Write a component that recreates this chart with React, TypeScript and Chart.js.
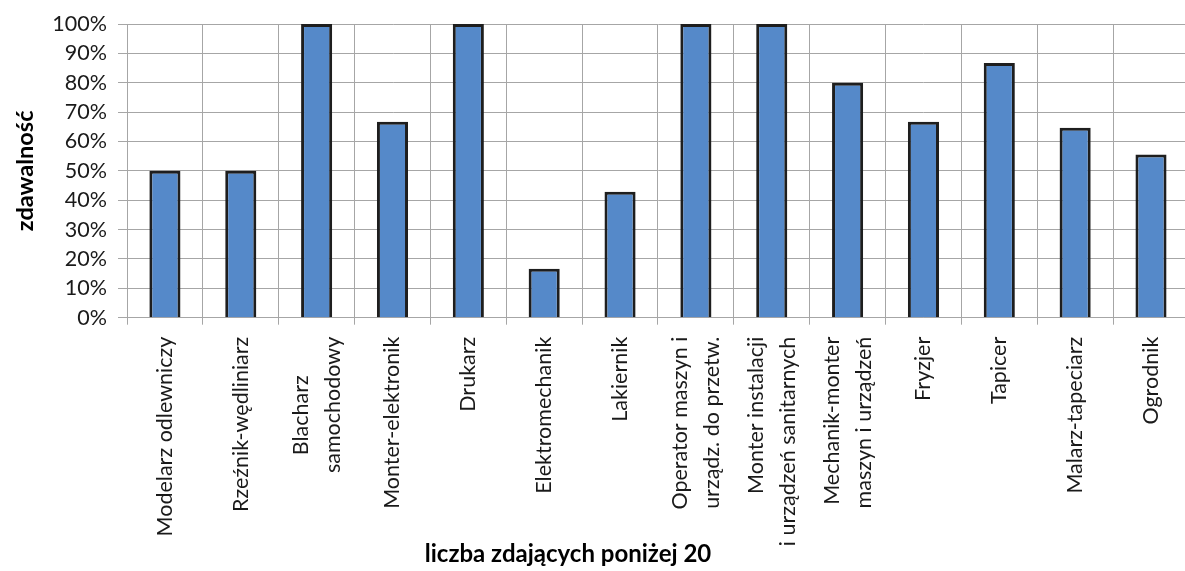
import React, { useEffect, useRef } from "react";
import { Chart, registerables, CategoryScale } from "chart.js";

const categories: (string | string[])[] = [
  "Modelarz odlewniczy",
  "Rzeźnik-wędliniarz",
  ["Blacharz       ", "samochodowy"],
  "Monter-elektronik",
  "Drukarz",
  "Elektromechanik",
  "Lakiernik",
  ["Operator maszyn i", "urządz. do przetw."],
  ["Monter instalacji", "i urządzeń sanitarnych"],
  ["Mechanik-monter", "maszyn i urządzeń"],
  "Fryzjer",
  "Tapicer",
  "Malarz-tapeciarz",
  "Ogrodnik",
];

const passRates: number[] = [50, 50, 100, 66.7, 100, 16.7, 42.9, 100, 100, 80, 66.7, 86.7, 64.7, 55.6];

const yTickValues: number[] = [0, 10, 20, 30, 40, 50, 60, 70, 80, 90, 100];

const yTitle = "zdawalność";
const xTitle = "liczba zdających poniżej 20";

class CenteredCategoryScale extends CategoryScale {
  static id = "centeredCategory";
  static defaults = CategoryScale.defaults;
  _computeLabelItems(chartArea: any) {
    const items = (super._computeLabelItems as any)(chartArea);
    items.forEach((item: any) => {
      const n = Array.isArray(item.label) ? item.label.length : 1;
      if (n > 1) {
        item.options.translation[0] -= ((n - 1) * item.font.lineHeight) / 2;
      }
    });
    return items;
  }
  _computeLabelArea() {
    return undefined;
  }
}

Chart.register(...registerables, CenteredCategoryScale as any);

const FONT = "Lato";
const GRID = "#a6a6a6";
const TEXT = "#1a1a1a";

export default function App() {
  const ref = useRef<HTMLCanvasElement>(null);
  useEffect(() => {
    const chart = new Chart(ref.current!, {
      type: "bar",
      data: {
        labels: categories,
        datasets: [
          {
            data: passRates,
            backgroundColor: "#5589c9",
            borderColor: "#1e1e1e",
            borderWidth: 3,
            barPercentage: 0.41,
            categoryPercentage: 1,
          },
        ],
      },
      options: {
        responsive: false,
        animation: false,
        layout: { padding: { top: 24, left: 0, right: 0, bottom: 0 } },
        plugins: {
          legend: { display: false },
          tooltip: { enabled: false },
          title: {
            display: true,
            position: "bottom",
            text: xTitle,
            color: "#000",
            font: { family: FONT, weight: "bold", size: 24, lineHeight: 1.2 },
            padding: { top: 0, bottom: 2 },
          },
        },
        scales: {
          x: {
            type: "centeredCategory" as any,
            grid: { offset: true, color: GRID, tickLength: 7, lineWidth: 1 },
            border: { color: GRID },
            ticks: {
              minRotation: 90,
              maxRotation: 90,
              autoSkip: false,
              padding: 12,
              color: TEXT,
              font: { family: FONT, size: 21.5, lineHeight: 32 / 21.5 },
            },
            afterFit: (s: any) => {
              s.height = 222.5;
            },
          },
          y: {
            min: 0,
            max: 100,
            grid: { color: GRID, tickLength: 9, lineWidth: 1 },
            border: { color: GRID },
            afterBuildTicks: (s: any) => {
              s.ticks = yTickValues.map((v) => ({ value: v }));
            },
            ticks: {
              padding: 11,
              color: TEXT,
              font: { family: FONT, size: 21.5 },
              callback: (v: any) => `${v}%`,
            },
            title: {
              display: true,
              text: yTitle,
              color: "#000",
              font: { family: FONT, weight: "bold", size: 23.5, lineHeight: 1.2 },
              padding: { top: 70, bottom: 0 },
            },
            afterFit: (s: any) => {
              s.width = 186;
            },
          },
        },
      },
    } as any);
    return () => chart.destroy();
  }, []);
  return (
    <div
      style={{
        position: "fixed",
        left: 0,
        top: 0,
        width: 1185,
        height: 571,
        overflow: "hidden",
        background: "#fff",
      }}
    >
      <div style={{ position: "absolute", left: -59, top: 0, width: 1254, height: 571 }}>
        <canvas ref={ref} width={1254} height={571} />
      </div>
    </div>
  );
}
